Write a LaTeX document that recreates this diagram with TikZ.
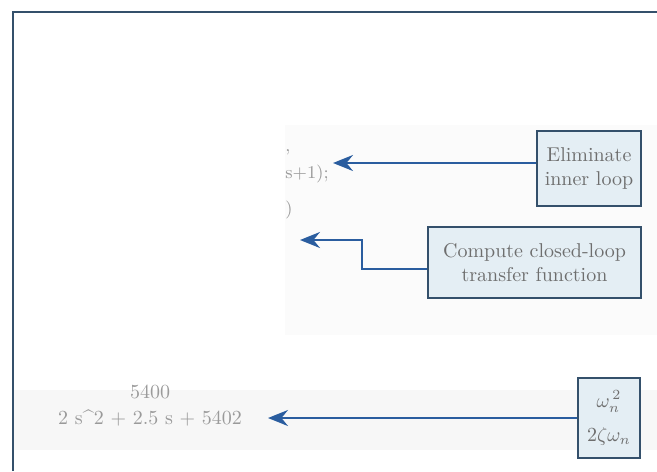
\documentclass[tikz,border=0pt]{standalone}
\usepackage{amsmath,amssymb}
\usepackage{tikz}
\usetikzlibrary{arrows.meta,positioning}
\definecolor{framecol}{HTML}{34506B}
\definecolor{arrowcol}{HTML}{2A5D9F}
\definecolor{boxfill}{HTML}{E4EEF4}
\definecolor{fadetext}{HTML}{6E6E6E}

\begin{document}
\begin{tikzpicture}[
  x=0.5pt, y=-0.5pt,
  box/.style={draw=framecol, line width=0.8pt, fill=boxfill, align=center,
    inner sep=3pt, text=fadetext, font=\normalsize},
  arrow/.style={-{Stealth[length=3.5mm,width=2.8mm]}, draw=arrowcol, line width=1.3pt},
  code/.style={text=fadetext!70, font=\small, inner sep=1pt}
]
\useasboundingbox (0,0) rectangle (657,471);
% faded page
\fill[gray!3] (285,125) rectangle (657,335);
\fill[gray!6] (14,390) rectangle (657,450);
\draw[framecol, line width=0.8pt] (13,471) -- (13,12) -- (657,12);

% annotation boxes
\node[box, minimum width=52pt, minimum height=37.5pt] (elim) at (589,168.5)
  {Eliminate\\inner loop};
\node[box, minimum width=106.5pt, minimum height=35.5pt] (comp) at (534.5,262.5)
  {Compute closed-loop\\transfer function};
\node[box, minimum width=31pt, minimum height=40pt] (wbox) at (609,418)
  {$\omega_n^{\,2}$\\[5pt]$2\zeta\omega_n$};

% program text
\node[code, anchor=west] (cone) at (283,152) {,};
\node[code, anchor=west] (ctwo) at (283,174) {s+1);};
\node[code, anchor=west] (cthree) at (283,210) {)};
\node[code, font=\normalsize, align=center] (tf) at (150,406)
  {5400\\[1pt]2 s\textasciicircum 2 + 2.5 s + 5402};

% pointers
\coordinate (elimtip) at (333,163);
\coordinate (compjoin) at (362,269);
\coordinate (comptip) at (300,240);
\coordinate (tftip) at (268,418);
\draw[arrow] (elim.west |- elimtip) -- (elimtip);
\draw[arrow] (comp.west |- compjoin) -- (compjoin) |- (comptip);
\draw[arrow] (wbox.west |- tftip) -- (tftip);
\end{tikzpicture}
\end{document}
